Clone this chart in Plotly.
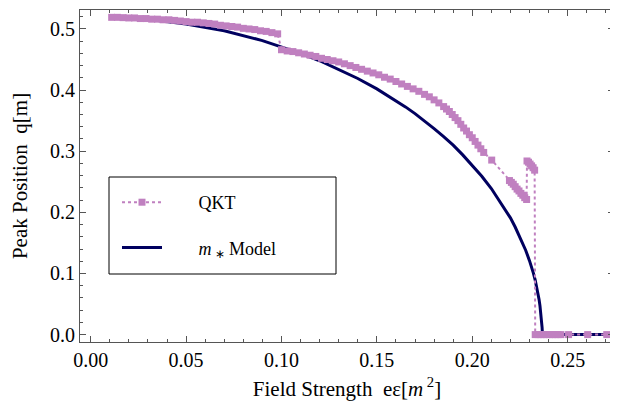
import plotly.graph_objects as go

# ---- data ----
qkt_x = [0.011, 0.014, 0.017, 0.020, 0.023, 0.026, 0.029, 0.032, 0.035, 0.038,
         0.041, 0.044, 0.047, 0.050, 0.053, 0.056, 0.059, 0.062, 0.065, 0.068,
         0.071, 0.074, 0.077, 0.080, 0.083, 0.086, 0.089, 0.092, 0.095, 0.098,
         0.100, 0.103, 0.106, 0.109, 0.112, 0.115, 0.118, 0.121, 0.124, 0.127,
         0.130, 0.133, 0.136, 0.139, 0.142, 0.145, 0.148, 0.151, 0.154, 0.157,
         0.160, 0.163, 0.166, 0.169, 0.172, 0.175, 0.1775, 0.180, 0.1825, 0.185,
         0.1865, 0.188, 0.1895, 0.191, 0.1925, 0.194, 0.1955, 0.197, 0.1985, 0.200,
         0.2015, 0.203, 0.2045, 0.206,
         0.2102,
         0.2195, 0.2205, 0.2215, 0.2225, 0.2235, 0.2245, 0.2255, 0.2265, 0.2275, 0.2285,
         0.2287, 0.2295, 0.2303, 0.2311, 0.2319, 0.2327,
         0.2330, 0.2345, 0.2360, 0.2375, 0.2390, 0.2405, 0.2420, 0.2435, 0.2450,
         0.2465, 0.2505, 0.2605, 0.2705]
qkt_y = [0.519, 0.519, 0.5185, 0.518, 0.518, 0.517, 0.517, 0.516, 0.516, 0.515,
         0.515, 0.514, 0.513, 0.512, 0.511, 0.511, 0.510, 0.509, 0.508, 0.506,
         0.505, 0.504, 0.503, 0.501, 0.500, 0.499, 0.497, 0.496, 0.494, 0.492,
         0.466, 0.464, 0.463, 0.461, 0.459, 0.457, 0.455, 0.452, 0.450, 0.448,
         0.446, 0.443, 0.440, 0.437, 0.434, 0.431, 0.428, 0.425, 0.421, 0.418,
         0.414, 0.410, 0.406, 0.402, 0.398, 0.393, 0.389, 0.384, 0.379, 0.373,
         0.369, 0.365, 0.360, 0.355, 0.350, 0.344, 0.338, 0.333, 0.327, 0.322,
         0.316, 0.310, 0.304, 0.298,
         0.2855,
         0.252, 0.249, 0.246, 0.242, 0.238, 0.235, 0.231, 0.228, 0.224, 0.221,
         0.284, 0.282, 0.279, 0.276, 0.273, 0.269,
         0.0, 0.0, 0.0, 0.0, 0.0, 0.0, 0.0, 0.0, 0.0,
         0.0, 0.0, 0.0, 0.0]

model_x = [0.011, 0.030, 0.050, 0.070, 0.090, 0.100, 0.110, 0.120, 0.130, 0.140,
           0.150, 0.160, 0.165, 0.170, 0.175, 0.180, 0.185, 0.190, 0.195, 0.200,
           0.205, 0.210, 0.215, 0.2175, 0.220, 0.2225, 0.225, 0.2265, 0.228, 0.230,
           0.231, 0.232, 0.233, 0.234, 0.235, 0.2355, 0.236, 0.2363, 0.2366, 0.2368,
           0.270]
model_y = [0.519, 0.516, 0.508, 0.497, 0.481, 0.471, 0.460, 0.448, 0.434, 0.419,
           0.402, 0.383, 0.3725, 0.3615, 0.350, 0.337, 0.324, 0.310, 0.294, 0.277,
           0.259, 0.239, 0.216, 0.204, 0.191, 0.176, 0.160, 0.150, 0.138, 0.121,
           0.112, 0.101, 0.089, 0.075, 0.058, 0.047, 0.034, 0.024, 0.012, 0.0,
           0.0]

x_ticks = [0.00, 0.05, 0.10, 0.15, 0.20, 0.25]
x_tick_labels = ["0.00", "0.05", "0.10", "0.15", "0.20", "0.25"]
y_ticks = [0.0, 0.1, 0.2, 0.3, 0.4, 0.5]
y_tick_labels = ["0.0", "0.1", "0.2", "0.3", "0.4", "0.5"]

PINK = "#C080C0"
NAVY = "#00005F"
AXIS = "#555555"
FONT = "Liberation Serif, 'Times New Roman', Times, serif"
SP = "\u00a0" * 7

fig = go.Figure()
fig.add_trace(go.Scatter(
    x=model_x, y=model_y, mode="lines",
    name=SP + "<i>m</i><sub><span style='font-size:12px'> \u2217</span></sub> Model",
    line=dict(color=NAVY, width=3), legendrank=2, legendgroup="b"))
fig.add_trace(go.Scatter(
    x=qkt_x, y=qkt_y, mode="lines+markers",
    name=SP + "QKT",
    line=dict(color=PINK, width=2, dash="dot"),
    marker=dict(symbol="square", size=7, color=PINK), legendrank=1, legendgroup="a"))

axis_common = dict(
    showline=True, linecolor=AXIS, linewidth=1, mirror="allticks",
    ticks="inside", ticklen=6, tickcolor=AXIS, tickwidth=1,
    showgrid=False, zeroline=False, automargin=False,
    tickfont=dict(family=FONT, size=20, color="black"),
)

fig.update_xaxes(
    range=[-0.0056, 0.2743], tickvals=x_ticks, ticktext=x_tick_labels,
    minor=dict(ticks="inside", dtick=0.01, tick0=0, ticklen=3, tickcolor=AXIS),
    title=dict(text="Field Strength  e\u03b5[<i>m</i><sup> 2</sup>]",
               font=dict(family=FONT, size=21, color="black"), standoff=11),
    **axis_common)
fig.update_yaxes(
    range=[-0.0121, 0.531], tickvals=y_ticks, ticktext=y_tick_labels,
    minor=dict(ticks="inside", dtick=0.02, tick0=0, ticklen=3, tickcolor=AXIS),
    title=dict(text="Peak Position  q[m]",
               font=dict(family=FONT, size=21, color="black"), standoff=18),
    **axis_common)

# page body has an 8px margin, so the figure is laid out in its own coordinates
OFF = 8
PL, PR, PT, PB = 80 - OFF, 614 - OFF, 10 - OFF, 342 - OFF
PW, PH = PR - PL, PB - PT

def px_x(v):
    return (v - OFF - PL) / PW

def px_y(v):
    return (PB - (v - OFF)) / PH

fig.add_shape(type="rect", xref="paper", yref="paper",
              x0=px_x(109), x1=px_x(336), y0=px_y(274), y1=px_y(177),
              line=dict(color="black", width=1), fillcolor="white", layer="below")

fig.update_layout(
    width=610, height=399,
    margin=dict(l=PL, r=610 - PR, t=PT, b=399 - PB),
    paper_bgcolor="white", plot_bgcolor="white",
    font=dict(family=FONT, size=18, color="black"),
    legend=dict(x=px_x(117), y=px_y(184), xanchor="left", yanchor="top",
                bgcolor="rgba(0,0,0,0)", borderwidth=0,
                tracegroupgap=19, itemwidth=40,
                font=dict(family=FONT, size=18, color="black")),
)

fig.write_html("out.html")
